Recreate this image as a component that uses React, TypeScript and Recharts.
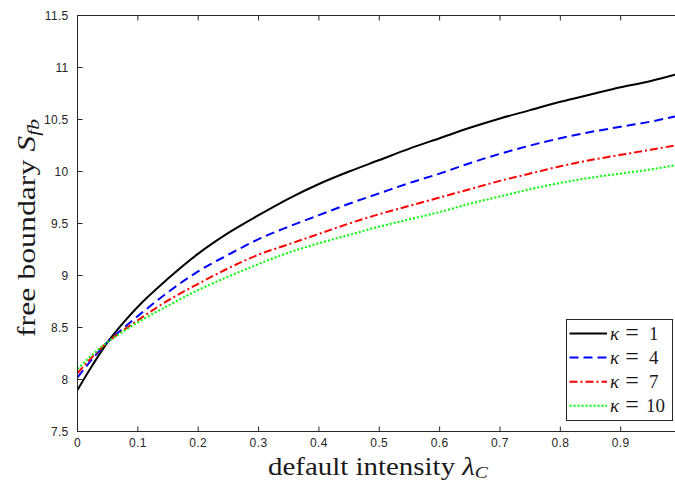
import React from "react";
import { LineChart, Line, XAxis, YAxis, Legend } from "recharts";

// default intensity lambda_C
const lambdaC = [
  0, 0.025, 0.05, 0.075, 0.1, 0.15, 0.2, 0.25, 0.3, 0.35, 0.4, 0.45, 0.5, 0.55,
  0.6, 0.65, 0.7, 0.75, 0.8, 0.85, 0.9, 0.95, 0.99,
];

// free boundary S_fb for each kappa
const kappa1 = [
  7.9, 8.14, 8.36, 8.54, 8.7, 8.97, 9.21, 9.41, 9.58, 9.74, 9.88, 10.0, 10.11,
  10.22, 10.32, 10.42, 10.51, 10.59, 10.67, 10.74, 10.81, 10.87, 10.93,
];
const kappa4 = [
  8.02, 8.2, 8.36, 8.49, 8.61, 8.84, 9.04, 9.2, 9.35, 9.47, 9.58, 9.69, 9.79,
  9.89, 9.98, 10.08, 10.17, 10.25, 10.32, 10.38, 10.43, 10.48, 10.53,
];
const kappa7 = [
  8.06, 8.22, 8.36, 8.47, 8.57, 8.76, 8.92, 9.07, 9.2, 9.3, 9.4, 9.5, 9.59,
  9.67, 9.75, 9.83, 9.91, 9.98, 10.05, 10.11, 10.16, 10.21, 10.25,
];
const kappa10 = [
  8.1, 8.24, 8.36, 8.46, 8.55, 8.71, 8.86, 8.99, 9.11, 9.22, 9.31, 9.39, 9.47,
  9.54, 9.61, 9.69, 9.76, 9.83, 9.89, 9.94, 9.98, 10.02, 10.06,
];

const xTicks = [0, 0.1, 0.2, 0.3, 0.4, 0.5, 0.6, 0.7, 0.8, 0.9];
const yTicks = [7.5, 8, 8.5, 9, 9.5, 10, 10.5, 11, 11.5];

const series = [
  { key: "k1", kappa: 1, values: kappa1, color: "#000000", dash: undefined },
  { key: "k4", kappa: 4, values: kappa4, color: "#0000ff", dash: "9 5" },
  { key: "k7", kappa: 7, values: kappa7, color: "#ff0000", dash: "8 3 2 3" },
  { key: "k10", kappa: 10, values: kappa10, color: "#00ff00", dash: "2 2" },
];

const data = lambdaC.map((x, i) => {
  const row: Record<string, number> = { x };
  series.forEach((s) => {
    row[s.key] = s.values[i];
  });
  return row;
});

const AXIS = "#262626";
const INK = "#1a1a1a";
const SERIF = "'Liberation Serif', 'DejaVu Serif', serif";
const SANS = "'Liberation Sans', Arial, sans-serif";

// latex-ish labels, stretched to the width they have in the original
const YLabel = () => (
  <text
    transform="translate(35,228) rotate(-90)"
    textAnchor="middle"
    fontFamily={SERIF}
    fontSize={25}
    fill={INK}
    textLength={218}
    lengthAdjust="spacingAndGlyphs"
  >
    free boundary <tspan fontStyle="italic">S</tspan>
    <tspan fontStyle="italic" fontSize={17} dy={4}>
      fb
    </tspan>
  </text>
);

const XLabel = () => (
  <text
    x={378}
    y={475}
    textAnchor="middle"
    fontFamily={SERIF}
    fontSize={25}
    fill={INK}
    textLength={220}
    lengthAdjust="spacingAndGlyphs"
  >
    default intensity <tspan fontStyle="italic">λ</tspan>
    <tspan fontStyle="italic" fontSize={17} dy={3}>
      C
    </tspan>
  </text>
);

const KappaLegend = () => (
  <svg width={108} height={103} style={{ display: "block" }}>
    <rect x={0.5} y={0.5} width={106} height={101} fill="#fff" stroke={AXIS} />
    {series.map((s, i) => {
      const y = 14.5 + 24.1 * i;
      return (
        <g key={s.key}>
          <line
            x1={3.5}
            x2={41}
            y1={y}
            y2={y}
            stroke={s.color}
            strokeWidth={2}
            strokeDasharray={s.dash}
          />
          <text x={44} y={y + 6} fontFamily={SERIF} fontSize={19} fontStyle="italic" fill={INK}>
            κ
          </text>
          <text
            x={66}
            y={y + 6}
            textAnchor="middle"
            fontFamily={SERIF}
            fontSize={24}
            fill={INK}
          >
            =
          </text>
          <text x={s.kappa < 10 ? 83 : 80} y={y + 6} fontFamily={SERIF} fontSize={19} fill={INK}>
            {s.kappa}
          </text>
        </g>
      );
    })}
  </svg>
);

export default function App() {
  return (
    <div style={{ position: "absolute", left: 0, top: 0, background: "#fff" }}>
      <LineChart
        width={675}
        height={481}
        data={data}
        margin={{ top: 14.5, right: 0, left: 0, bottom: 0 }}
      >
        <XAxis
          dataKey="x"
          type="number"
          domain={[0, 0.99]}
          ticks={xTicks}
          allowDataOverflow
          height={49.5}
          stroke={AXIS}
          tickSize={-5}
          tickMargin={12}
          tick={{ fill: AXIS, fontSize: 12, fontFamily: SANS, letterSpacing: 0.4 }}
          label={<XLabel />}
        />
        <XAxis
          xAxisId="top"
          orientation="top"
          dataKey="x"
          type="number"
          domain={[0, 0.99]}
          ticks={xTicks}
          allowDataOverflow
          height={1}
          stroke={AXIS}
          tickSize={-5}
          tickFormatter={() => ""}
        />
        <YAxis
          type="number"
          domain={[7.5, 11.5]}
          ticks={yTicks}
          width={77.5}
          stroke={AXIS}
          tickSize={-5}
          tickMargin={14}
          tick={{ fill: AXIS, fontSize: 12, fontFamily: SANS, letterSpacing: 0.3 }}
          label={<YLabel />}
        />
        <Legend
          layout="vertical"
          align="center"
          verticalAlign="middle"
          wrapperStyle={{ left: 566, top: 319, width: 108, height: 103 }}
          content={() => <KappaLegend />}
        />
        {series.map((s) => (
          <Line
            key={s.key}
            dataKey={s.key}
            name={`κ = ${s.kappa}`}
            type="monotone"
            stroke={s.color}
            strokeWidth={2}
            strokeDasharray={s.dash}
            dot={false}
            activeDot={false}
            isAnimationActive={false}
          />
        ))}
      </LineChart>
    </div>
  );
}
